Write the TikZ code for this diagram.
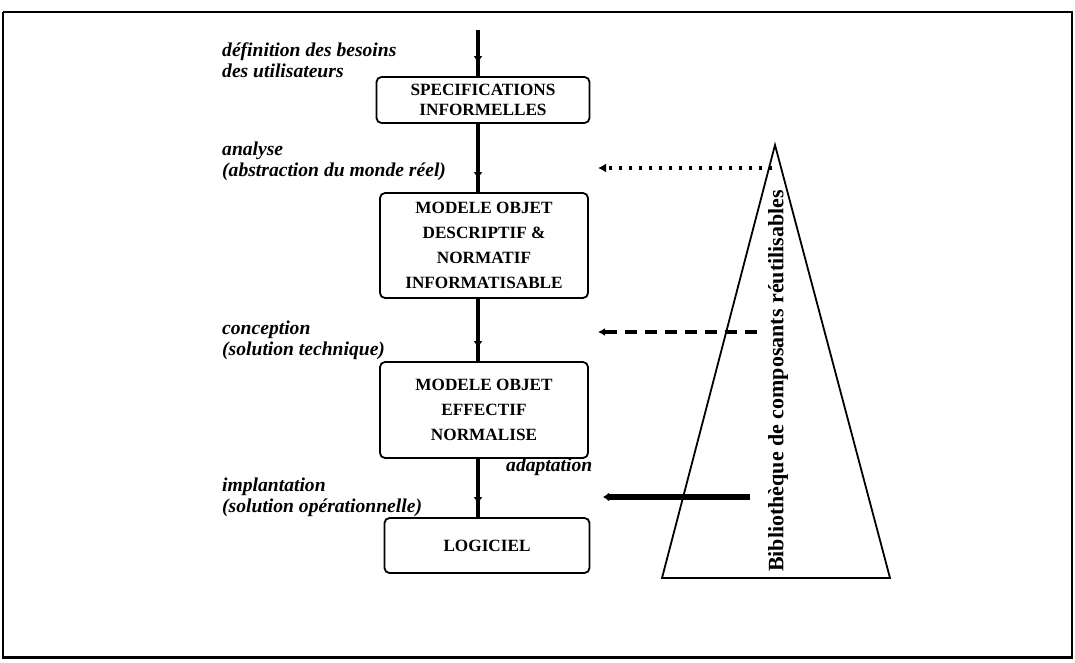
\documentclass[tikz,border=0pt]{standalone}
\usepackage{fontspec}
\setmainfont{Liberation Serif}
\usetikzlibrary{arrows.meta,decorations.markings}
\begin{document}
\begin{tikzpicture}[x=1pt,y=-1pt,
  stagebox/.style={draw,line width=1.8pt,rounded corners=5pt,align=center,
    font=\fontsize{17.2}{25}\selectfont\bfseries,inner sep=0pt},
  flowline/.style={line width=3.2pt,
    decoration={markings,mark=at position -13pt with {\arrow{Latex[length=7pt,width=9pt]}}},
    postaction={decorate}},
  phase/.style={anchor=west,align=left,font=\fontsize{19.6}{21}\selectfont\bfseries\itshape,inner sep=0pt},
  libtext/.style={rotate=90,font=\fontsize{22}{24}\selectfont\bfseries,inner sep=0pt}]
  % page and frame
  \fill[white] (0,0) rectangle (1075,663);
  \draw[line width=1.8pt] (3,12) -- (1072,12) -- (1072,657);
  \draw[line width=1.5pt] (3,12) -- (3,657);
  \draw[line width=3pt] (2,657) -- (1073,657);

  % development chain
  \coordinate (start) at (478,30);
  \node[stagebox,minimum width=213pt,minimum height=46pt] (spec) at (483,100)
    {SPECIFICATIONS\\[-5pt]INFORMELLES};
  \node[stagebox,minimum width=208pt,minimum height=105pt] (desc) at (484,245.5)
    {MODELE OBJET\\DESCRIPTIF \&\\NORMATIF\\INFORMATISABLE};
  \node[stagebox,minimum width=208pt,minimum height=96pt] (eff) at (484,410)
    {MODELE OBJET\\EFFECTIF\\NORMALISE};
  \node[stagebox,minimum width=205pt,minimum height=55pt] (soft) at (487,545.5)
    {LOGICIEL};

  \draw[flowline] (start) -- (spec.north -| start);
  \draw[flowline] (spec.south -| start) -- (desc.north -| start);
  \draw[flowline] (desc.south -| start) -- (eff.north -| start);
  \draw[flowline] (eff.south -| start) -- (soft.north -| start);

  % phase labels
  \node[phase] (besoins) at (222,60) {définition des besoins\\des utilisateurs};
  \node[phase] (analyse) at (222,161) {analyse\\(abstraction du monde réel)};
  \node[phase] (concep) at (222,340) {conception\\(solution technique)};
  \node[phase] (implant) at (222,497) {implantation\\(solution opérationnelle)};
  \node[phase] (adapt) at (506,467) {adaptation};

  % library of reusable components
  \coordinate (apex) at (775,145);
  \coordinate (bl) at (662,578);
  \coordinate (br) at (890,578);
  \draw[line width=1.8pt,line join=miter] (apex) -- (bl) -- (br) -- cycle;
  \node[libtext] (lib) at (778,381) {Bibliothèque de composants réutilisables};

  % reuse links from the library
  \coordinate (dotS) at (772,168);
  \coordinate (dotE) at (598,168);
  \coordinate (dashS) at (757,332);
  \coordinate (dashE) at (598,332);
  \coordinate (solS) at (750,497);
  \coordinate (solE) at (603,497);
  \draw[line width=3.5pt,dash pattern=on 3pt off 7pt,-{Latex[length=8pt,width=9pt]}] (dotS) -- (dotE);
  \draw[line width=4pt,dash pattern=on 12pt off 8pt,-{Latex[length=7pt,width=8pt]}] (dashS) -- (dashE);
  \draw[line width=6pt,-{Latex[length=6pt,width=9pt]}] (solS) -- (solE);
\end{tikzpicture}
\end{document}
